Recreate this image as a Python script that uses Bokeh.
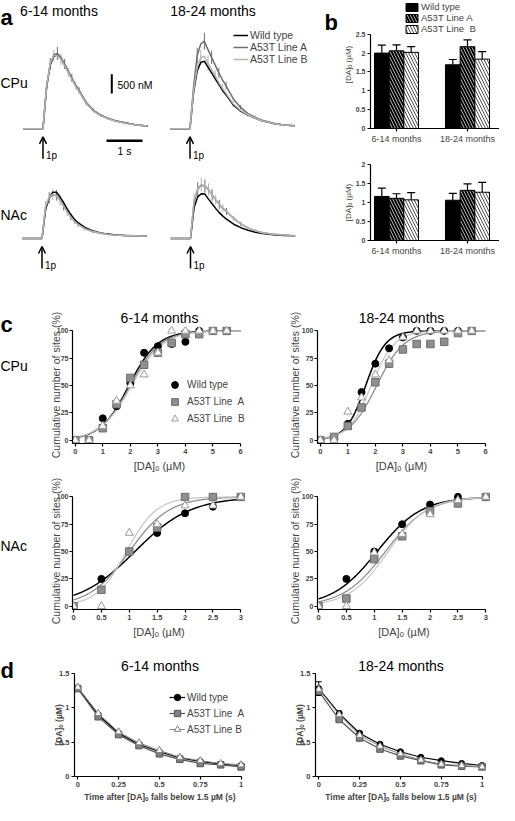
import numpy as np
from bokeh.plotting import figure
from bokeh.models import (Range1d, FixedTicker, Label, Legend, LegendItem, Arrow,
                          OpenHead, Whisker, TeeHead, ColumnDataSource, Title)
from bokeh.layouts import row, column
from bokeh.embed import file_html
from bokeh.resources import INLINE

FONT = "Liberation Sans"

# ------------------------------------------------------------------ data
age_groups = ["6-14 months", "18-24 months"]
genotype_labels = ["Wild type", "A53T Line A", "A53T Line B"]

# (a) mean evoked [DA]o transients (µM) after 1 pulse, time in s
trace_t = [-0.55, 0.0, 0.1, 0.2, 0.3, 0.4, 0.5, 0.6, 0.7, 0.8, 0.9, 1.0,
           1.2, 1.4, 1.6, 1.8, 2.0, 2.3, 2.6, 2.9]
cpu_young_wt = [0, 0, 1.10, 1.65, 1.88, 1.92, 1.82, 1.65, 1.48, 1.30, 1.13, 0.98, 0.67, 0.47, 0.35, 0.27, 0.21, 0.15, 0.10, 0.07]
cpu_young_a = [0, 0, 1.05, 1.68, 1.92, 1.95, 1.85, 1.68, 1.50, 1.32, 1.15, 1.00, 0.69, 0.48, 0.36, 0.27, 0.21, 0.15, 0.10, 0.07]
cpu_young_b = [0, 0, 1.12, 1.70, 1.90, 1.90, 1.80, 1.63, 1.46, 1.28, 1.11, 0.96, 0.66, 0.46, 0.34, 0.26, 0.20, 0.14, 0.10, 0.07]
cpu_young_sem = [0, 0, 0.12, 0.15, 0.15, 0.17, 0.15, 0.13, 0.12, 0.10, 0.09, 0.08, 0.06, 0.05, 0.04, 0.03, 0.03, 0.02, 0.02, 0.02]
cpu_old_wt = [0, 0, 0.95, 1.50, 1.72, 1.75, 1.60, 1.45, 1.30, 1.15, 1.00, 0.88, 0.62, 0.46, 0.36, 0.28, 0.21, 0.14, 0.10, 0.08]
cpu_old_a = [0, 0, 1.10, 1.90, 2.20, 2.27, 2.05, 1.85, 1.65, 1.45, 1.27, 1.12, 0.78, 0.56, 0.40, 0.30, 0.22, 0.15, 0.10, 0.08]
cpu_old_b = [0, 0, 1.00, 1.60, 1.85, 1.88, 1.70, 1.53, 1.37, 1.20, 1.05, 0.92, 0.65, 0.48, 0.37, 0.28, 0.21, 0.14, 0.10, 0.08]
cpu_old_sem = [0, 0, 0.15, 0.20, 0.20, 0.22, 0.20, 0.17, 0.15, 0.13, 0.11, 0.10, 0.08, 0.06, 0.05, 0.04, 0.03, 0.02, 0.02, 0.02]
nac_young_wt = [0, 0, 0.75, 1.05, 1.20, 1.20, 1.08, 0.93, 0.77, 0.62, 0.50, 0.41, 0.28, 0.20, 0.15, 0.12, 0.10, 0.08, 0.07, 0.06]
nac_young_a = [0, 0, 0.80, 1.05, 1.13, 1.12, 1.00, 0.85, 0.70, 0.56, 0.45, 0.37, 0.25, 0.18, 0.14, 0.11, 0.09, 0.08, 0.07, 0.06]
nac_young_b = [0, 0, 0.85, 1.08, 1.14, 1.10, 0.98, 0.83, 0.68, 0.55, 0.44, 0.36, 0.25, 0.18, 0.14, 0.11, 0.09, 0.08, 0.07, 0.06]
nac_young_sem = [0, 0, 0.12, 0.15, 0.15, 0.14, 0.13, 0.12, 0.10, 0.09, 0.07, 0.06, 0.04, 0.03, 0.03, 0.02, 0.02, 0.02, 0.02, 0.02]
nac_old_wt = [0, 0, 0.80, 1.08, 1.16, 1.15, 1.02, 0.90, 0.78, 0.67, 0.58, 0.50, 0.37, 0.28, 0.21, 0.16, 0.13, 0.10, 0.08, 0.07]
nac_old_a = [0, 0, 0.95, 1.28, 1.38, 1.36, 1.26, 1.13, 1.00, 0.88, 0.78, 0.70, 0.52, 0.38, 0.27, 0.20, 0.15, 0.11, 0.09, 0.07]
nac_old_b = [0, 0, 1.00, 1.30, 1.40, 1.37, 1.27, 1.14, 1.01, 0.89, 0.79, 0.71, 0.52, 0.38, 0.27, 0.20, 0.15, 0.11, 0.09, 0.07]
nac_old_sem = [0, 0, 0.15, 0.18, 0.18, 0.17, 0.16, 0.15, 0.13, 0.12, 0.10, 0.09, 0.07, 0.05, 0.04, 0.03, 0.03, 0.02, 0.02, 0.02]
scale_conc_um = 0.5   # 500 nM scale bar
scale_time_s = 1.0    # 1 s scale bar

# (b) peak [DA]o (µM), mean and SEM per age group
cpu_peak_wt = [2.00, 1.69]
cpu_peak_wt_sem = [0.21, 0.14]
cpu_peak_a = [2.06, 2.17]
cpu_peak_a_sem = [0.16, 0.18]
cpu_peak_b = [2.02, 1.84]
cpu_peak_b_sem = [0.15, 0.20]
nac_peak_wt = [1.16, 1.06]
nac_peak_wt_sem = [0.22, 0.18]
nac_peak_a = [1.11, 1.32]
nac_peak_a_sem = [0.12, 0.17]
nac_peak_b = [1.07, 1.27]
nac_peak_b_sem = [0.19, 0.26]

# (c) cumulative frequency of sites (%) vs [DA]o (µM)
cpu_conc = [0, 0.5, 1, 1.5, 2, 2.5, 3, 3.5, 4, 4.5, 5, 5.5]
cpu_young_cum_wt = [0, 0, 20, 31, 52, 80, 86, 88, 90, 100, 100, 100]
cpu_young_cum_a = [0, 0, 11, 33, 57, 69, 80, 89, 97, 97, 100, 100]
cpu_young_cum_b = [0, 0, 13, 36, 50, 60, 80, 100, 100, 100, 100, 100]
cpu_old_cum_wt = [0, 2, 15, 44, 70, 84, 94, 100, 100, 100, 100, 100]
cpu_old_cum_a = [0, 3, 13, 30, 53, 70, 83, 88, 88, 90, 98, 100]
cpu_old_cum_b = [0, 0, 26, 39, 60, 73, 94, 100, 100, 100, 100, 100]
nac_conc = [0, 0.5, 1.0, 1.5, 2.0, 2.5, 3.0]
nac_young_cum_wt = [0, 25, 50, 67, 85, 91, 100]
nac_young_cum_a = [0, 15, 50, 72, 100, 100, 100]
nac_young_cum_b = [0, 0, 67, 75, 92, 92, 100]
nac_old_cum_wt = [0, 25, 50, 75, 93, 100, 100]
nac_old_cum_a = [0, 7, 43, 64, 87, 94, 100]
nac_old_cum_b = [0, 0, 49, 66, 84, 97, 100]
# sigmoid fits (midpoint µM, slope µM)
cpu_young_fit = [(1.95, 0.52), (2.00, 0.55), (2.05, 0.57)]
cpu_old_fit = [(1.65, 0.36), (2.05, 0.50), (1.85, 0.42)]
nac_young_fit = [(1.10, 0.50), (1.00, 0.36), (0.95, 0.27)]
nac_old_fit = [(1.05, 0.40), (1.20, 0.38), (1.25, 0.35)]

# (d) [DA]o (µM) after it falls below 1.5 µM
decay_t = [0, 0.125, 0.25, 0.375, 0.5, 0.625, 0.75, 0.875, 1.0]
decay_young_wt = [1.29, 0.90, 0.63, 0.47, 0.36, 0.27, 0.22, 0.18, 0.16]
decay_young_a = [1.28, 0.87, 0.61, 0.45, 0.33, 0.25, 0.19, 0.17, 0.14]
decay_young_b = [1.30, 0.92, 0.65, 0.49, 0.38, 0.28, 0.23, 0.19, 0.17]
decay_old_wt = [1.28, 0.92, 0.63, 0.47, 0.36, 0.28, 0.23, 0.19, 0.16]
decay_old_wt_sem = [0.10, 0.03, 0.02, 0.02, 0.02, 0.01, 0.01, 0.01, 0.01]
decay_old_a = [1.24, 0.83, 0.56, 0.40, 0.30, 0.23, 0.17, 0.15, 0.14]
decay_old_b = [1.27, 0.90, 0.60, 0.44, 0.33, 0.24, 0.18, 0.16, 0.14]

# ------------------------------------------------------------------ helpers
def mkfig(canvas, frame, xr, yr, axes=True):
    cx0, cy0, cx1, cy1 = canvas
    fx0, fy0, fx1, fy1 = frame
    kw = {}
    if not axes:
        kw = dict(x_axis_type=None, y_axis_type=None)
    p = figure(width=cx1 - cx0, height=cy1 - cy0,
               x_range=Range1d(*xr), y_range=Range1d(*yr),
               title=None, output_backend="svg", toolbar_location=None,
               min_border_left=fx0 - cx0, min_border_right=cx1 - fx1,
               min_border_top=fy0 - cy0, min_border_bottom=cy1 - fy1, **kw)
    p.outline_line_color = None
    if axes:
        p.grid.visible = False
    return p


def add_text(p, frame, X, Y, text, size, bold=False, align="left",
             baseline="middle"):
    fx0, fy0, fx1, fy1 = frame
    p.add_layout(Label(x=X - fx0, y=fy1 - Y, x_units="screen", y_units="screen",
                       text=text, text_font=FONT, text_font_size=size,
                       text_font_style="bold" if bold else "normal",
                       text_align=align, text_baseline=baseline,
                       text_color="black"))


def add_title(p, text, standoff):
    p.add_layout(Title(text=text, align="center", text_font=FONT,
                       text_font_size="14px", text_font_style="normal",
                       text_color="black", standoff=standoff), "above")


def style_axes(p, tick_size, tick_bold=True, label_size="10px", label_bold=False):
    for ax in list(p.xaxis) + list(p.yaxis):
        ax.axis_line_color = "black"
        ax.axis_line_width = 1.2
        ax.major_tick_line_color = "black"
        ax.major_tick_line_width = 1.2
        ax.major_tick_out = 3
        ax.major_tick_in = 0
        ax.minor_tick_line_color = None
        ax.major_label_text_font = FONT
        ax.major_label_text_font_size = tick_size
        ax.major_label_text_font_style = "bold" if tick_bold else "normal"
        ax.major_label_standoff = 2
        ax.axis_label_text_font = FONT
        ax.axis_label_text_font_size = label_size
        ax.axis_label_text_font_style = "bold" if label_bold else "normal"


# ------------------------------------------------------------------ panel a
PX_S = 36.0
PX_UM = 38.6
TRACE_COLORS = ["black", "#6e6e6e", "#b4b4b4"]


def trace_panel(canvas, t0_px, base_px, series, sem):
    cx0, cy0, cx1, cy1 = canvas
    xr = ((cx0 - t0_px) / PX_S, (cx1 - t0_px) / PX_S)
    yr = ((base_px - cy1) / PX_UM, (base_px - cy0) / PX_UM)
    p = mkfig(canvas, canvas, xr, yr, axes=False)
    # error bars: line A on alternate samples, line B on the others
    for k, (vals, col) in enumerate(zip(series, TRACE_COLORS)):
        if k == 0:
            continue
        idx = [i for i in range(2, len(trace_t)) if i % 2 == k % 2]
        p.segment(x0=[trace_t[i] for i in idx], y0=[vals[i] - sem[i] for i in idx],
                  x1=[trace_t[i] for i in idx], y1=[vals[i] + sem[i] for i in idx],
                  line_color=col, line_width=1)
    rs = []
    for vals, col in zip(series, TRACE_COLORS):
        rs.append(p.line(trace_t, vals, line_color=col, line_width=1.5))
    yv = lambda Y: (base_px - Y) / PX_UM
    p.add_layout(Arrow(end=OpenHead(size=7, line_width=1.5, line_color="black"),
                       x_start=0, x_end=0, y_start=yv(base_px + 30), y_end=yv(base_px + 8),
                       line_width=1.5, line_color="black"))
    add_text(p, canvas, t0_px + 3, base_px + 27, "1p", "10px")
    return p, rs


fa1 = (8, 8, 172, 172)
fa2 = (172, 8, 346, 172)
fa3 = (8, 172, 172, 308)
fa4 = (172, 172, 346, 308)
a1, _ = trace_panel(fa1, 50.5, 136.3, [cpu_young_wt, cpu_young_a, cpu_young_b], cpu_young_sem)
a2, ra2 = trace_panel(fa2, 197.5, 136.3, [cpu_old_wt, cpu_old_a, cpu_old_b], cpu_old_sem)
a3, _ = trace_panel(fa3, 49.5, 246, [nac_young_wt, nac_young_a, nac_young_b], nac_young_sem)
a4, _ = trace_panel(fa4, 198, 246, [nac_old_wt, nac_old_a, nac_old_b], nac_old_sem)

add_text(a1, fa1, 8, 25, "a", "22px", bold=True, baseline="alphabetic")
add_text(a1, fa1, 66.5, 18, age_groups[0], "14px", align="center")
add_text(a1, fa1, 8, 90, "CPu", "14px")
sbx = (119.3 - 50.5) / PX_S
sby = (136.3 - 101) / PX_UM
a1.line([sbx, sbx], [sby, sby + scale_conc_um], line_color="black", line_width=2)
hbx = (114 - 50.5) / PX_S
hby = (136.3 - 148.3) / PX_UM
a1.line([hbx, hbx + scale_time_s], [hby, hby], line_color="black", line_width=2.5)
add_text(a1, fa1, 125, 92, "500 nM", "10.5px")
add_text(a1, fa1, 132, 158, "1 s", "10.5px", align="center")

add_text(a2, fa2, 220.5, 18, age_groups[1], "14px", align="center")
add_text(a2, fa2, 332, 30, "b", "22px", bold=True, baseline="alphabetic")
leg_a = Legend(items=[LegendItem(label=lab, renderers=[r]) for lab, r in
                      zip(genotype_labels, ra2)],
               location=(69, 99), glyph_width=15, glyph_height=12, label_height=12,
               spacing=0, padding=0, margin=0, label_standoff=2,
               border_line_color=None, background_fill_alpha=0,
               label_text_font=FONT, label_text_font_size="10.5px")
a2.add_layout(leg_a)
add_text(a3, fa3, 8, 222, "NAc", "14px")

# ------------------------------------------------------------------ panel b
GROUP0_PX = 404.0
GROUP_PX = 71.0
BAR_W = 0.207
BAR_STYLES = [dict(fill_color="black"),
              dict(fill_color="black", hatch_pattern="\\", hatch_color="white",
                   hatch_scale=6, hatch_weight=0.7),
              dict(fill_color="white", hatch_pattern="\\", hatch_color="black",
                   hatch_scale=6, hatch_weight=0.7)]


def bar_panel(canvas, frame, px_per_um, yticks, means, sems):
    fx0, fy0, fx1, fy1 = frame
    xr = ((fx0 - GROUP0_PX) / GROUP_PX, (fx1 - GROUP0_PX) / GROUP_PX)
    yr = (0, (fy1 - fy0) / px_per_um)
    p = mkfig(canvas, frame, xr, yr)
    style_axes(p, "7px", True, "8px")
    p.xaxis.ticker = FixedTicker(ticks=list(range(len(age_groups))))
    p.xaxis.major_label_overrides = {i: g for i, g in enumerate(age_groups)}
    p.xaxis.major_label_text_font_style = "normal"
    p.xaxis.major_label_text_font_size = "9px"
    p.yaxis.ticker = FixedTicker(ticks=yticks)
    p.yaxis.bounds = (0, yticks[-1])
    p.yaxis.axis_label = "[DA]ₒ (µM)"
    p.yaxis.axis_label_standoff = 0
    rs = []
    for k, (m, s, st) in enumerate(zip(means, sems, BAR_STYLES)):
        xs = [g + (k - 1) * BAR_W for g in range(len(age_groups))]
        r = p.vbar(x=xs, top=m, bottom=0, width=BAR_W, line_color="black",
                   line_width=1, **st)
        rs.append(r)
        src = ColumnDataSource(dict(x=xs, lo=m, hi=[a + b for a, b in zip(m, s)]))
        p.add_layout(Whisker(source=src, base="x", lower="lo", upper="hi",
                             lower_head=None,
                             upper_head=TeeHead(size=8, line_width=1.2, line_color="black"),
                             line_width=1.2, line_color="black"))
    return p, rs


fb1 = (378, 8, 507, 136)
b1, rb = bar_panel((346, 8, 507, 162), fb1, 37.7, [0, 0.5, 1.0, 1.5, 2.0, 2.5],
                   [cpu_peak_wt, cpu_peak_a, cpu_peak_b],
                   [cpu_peak_wt_sem, cpu_peak_a_sem, cpu_peak_b_sem])
fb2 = (378, 172, 507, 248)
b2, _ = bar_panel((346, 162, 507, 308), fb2, 38.0, [0, 0.5, 1.0, 1.5, 2.0],
                  [nac_peak_wt, nac_peak_a, nac_peak_b],
                  [nac_peak_wt_sem, nac_peak_a_sem, nac_peak_b_sem])
leg_b = Legend(items=[LegendItem(label=lab, renderers=[r]) for lab, r in
                      zip(["Wild type", "A53T Line A", "A53T Line  B"], rb)],
               location=(34, 94), glyph_width=15, glyph_height=10, label_height=11,
               spacing=0, padding=0, margin=0, label_standoff=2,
               border_line_color=None, background_fill_alpha=0,
               label_text_font=FONT, label_text_font_size="9.5px")
b1.add_layout(leg_b)

# ------------------------------------------------------------------ panel c
CURVE_COLORS = ["black", "#8c8c8c", "#c8c8c8"]


def cum_panel(canvas, frame, xr, xticks, xbounds, conc, cums, fits, ylab_standoff):
    p = mkfig(canvas, frame, xr, (-3, 104))
    style_axes(p, "7.5px", True, "11px")
    p.yaxis.major_label_text_font_size = "7px"
    p.yaxis.major_label_standoff = 1
    p.xaxis.ticker = FixedTicker(ticks=xticks)
    p.xaxis.bounds = xbounds
    p.yaxis.ticker = FixedTicker(ticks=[0, 25, 50, 75, 100])
    p.yaxis.bounds = (-3, 100)
    p.xaxis.axis_label = "[DA]ₒ (µM)"
    p.xaxis.axis_label_standoff = 3
    p.yaxis.axis_label = "Cumulative number of sites (%)"
    p.yaxis.axis_label_text_font_size = "10.5px"
    p.yaxis.axis_label_standoff = ylab_standoff
    xs = np.linspace(0, xbounds[1], 200)
    for (mid, slope), col in zip(fits, CURVE_COLORS):
        p.line(xs, 100.0 / (1.0 + np.exp((mid - xs) / slope)), line_color=col,
               line_width=1.5 if col == "black" else 1.3)
    r1 = p.scatter(conc, cums[0], marker="circle", size=7, fill_color="black",
                   line_color="black")
    r2 = p.scatter(conc, cums[1], marker="square", size=7.5, fill_color="#8f8f8f",
                   line_color="#6e6e6e", line_width=1)
    r3 = p.scatter(conc, cums[2], marker="triangle", size=8, fill_color="white",
                   line_color="#9a9a9a", line_width=1)
    return p, [r1, r2, r3]


fc1 = (80, 334, 254, 451)
c1, rc = cum_panel((44, 308, 257, 484), fc1, (-0.1, 6.218), list(range(7)), (-0.1, 6.0),
                   cpu_conc, [cpu_young_cum_wt, cpu_young_cum_a, cpu_young_cum_b],
                   cpu_young_fit, -8)
fc2 = (325, 334, 493, 451)
c2, _ = cum_panel((257, 308, 507, 484), fc2, (-0.1, 6.0), list(range(7)), (-0.1, 6.0),
                  cpu_conc, [cpu_old_cum_wt, cpu_old_cum_a, cpu_old_cum_b],
                  cpu_old_fit, -2)
half_ticks = [0, 0.5, 1.0, 1.5, 2.0, 2.5, 3.0]
fc3 = (80, 500, 253, 617)
c3, _ = cum_panel((44, 484, 257, 650), fc3, (-0.018, 3.084), half_ticks, (-0.018, 3.0),
                  nac_conc, [nac_young_cum_wt, nac_young_cum_a, nac_young_cum_b],
                  nac_young_fit, -8)
fc4 = (325, 500, 498, 617)
c4, _ = cum_panel((257, 484, 507, 650), fc4, (-0.018, 3.084), half_ticks, (-0.018, 3.0),
                  nac_conc, [nac_old_cum_wt, nac_old_cum_a, nac_old_cum_b],
                  nac_old_fit, -2)
add_title(c1, age_groups[0], 2)
add_title(c2, age_groups[1], 2)
leg_c = Legend(items=[LegendItem(label=lab, renderers=[r]) for lab, r in
                      zip(["Wild type", "A53T Line  A", "A53T Line  B"], rc)],
               location=(94, 16), glyph_width=17, glyph_height=17, label_height=17,
               spacing=-3, padding=0, margin=0, label_standoff=4,
               border_line_color=None, background_fill_alpha=0,
               label_text_font=FONT, label_text_font_size="10px")
c1.add_layout(leg_c)

# ------------------------------------------------------------------ panel d
D_STYLES = [dict(marker="circle", size=6, fill_color="black", line_color="black"),
            dict(marker="square", size=6.5, fill_color="#808080", line_color="#555555"),
            dict(marker="triangle", size=7, fill_color="white", line_color="#808080")]
D_LINE = [("black", 1.2), ("#555555", 1.2), ("#888888", 1.0)]


def decay_panel(canvas, frame, series, ylab_standoff):
    p = mkfig(canvas, frame, (-0.02, 1.027), (0, 1.5))
    style_axes(p, "7.5px", True, "8.5px", True)
    p.xaxis.ticker = FixedTicker(ticks=[0, 0.25, 0.5, 0.75, 1.0])
    p.xaxis.bounds = (-0.02, 1.0)
    p.yaxis.ticker = FixedTicker(ticks=[0, 0.5, 1.0, 1.5])
    p.xaxis.axis_label = "Time after [DA]ₒ falls below 1.5 µM (s)"
    p.xaxis.axis_label_standoff = 2
    p.yaxis.axis_label = "[DA]ₒ (µM)"
    p.yaxis.axis_label_standoff = ylab_standoff
    pairs = []
    for vals, st, (lc, lw) in zip(series, D_STYLES, D_LINE):
        rl = p.line(decay_t, vals, line_color=lc, line_width=lw)
        rm = p.scatter(decay_t, vals, **st)
        pairs.append([rl, rm])
    return p, pairs


fd1 = (82, 681, 253, 784)
d1, rd = decay_panel((44, 650, 257, 813), fd1,
                     [decay_young_wt, decay_young_a, decay_young_b], -8)
fd2 = (323, 681, 494, 784)
d2, _ = decay_panel((257, 650, 507, 813), fd2,
                    [decay_old_wt, decay_old_a, decay_old_b], -8)
src_d = ColumnDataSource(dict(x=decay_t,
                              lo=[v - s for v, s in zip(decay_old_wt, decay_old_wt_sem)],
                              hi=[v + s for v, s in zip(decay_old_wt, decay_old_wt_sem)]))
d2.add_layout(Whisker(source=src_d, base="x", lower="lo", upper="hi",
                      upper_head=TeeHead(size=6, line_width=1, line_color="black"),
                      lower_head=TeeHead(size=6, line_width=1, line_color="black"),
                      line_width=1, line_color="black"))
add_title(d1, age_groups[0], 0)
add_title(d2, age_groups[1], 0)
leg_d = Legend(items=[LegendItem(label=lab, renderers=rr) for lab, rr in
                      zip(["Wild type", "A53T Line  A", "A53T Line B"], rd)],
               location=(95, 39), glyph_width=16, glyph_height=16, label_height=16,
               spacing=-3, padding=0, margin=0, label_standoff=2,
               border_line_color=None, background_fill_alpha=0,
               label_text_font=FONT, label_text_font_size="10px")
d1.add_layout(leg_d)

# ------------------------------------------------------------------ left strip with panel letters / regions
fs = (8, 308, 44, 813)
strip = mkfig(fs, fs, (0, 1), (0, 1), axes=False)
add_text(strip, fs, 8, 332, "c", "22px", bold=True, baseline="alphabetic")
add_text(strip, fs, 8, 373, "CPu", "14px")
add_text(strip, fs, 8, 553, "NAc", "14px")
add_text(strip, fs, 8, 678, "d", "22px", bold=True, baseline="alphabetic")

# ------------------------------------------------------------------ layout
top = row(column(row(a1, a2), row(a3, a4)), column(b1, b2))
lower = row(strip, column(row(c1, c2), row(c3, c4), row(d1, d2)))
layout = column(top, lower)

open("out.html", "w").write(file_html(layout, INLINE))
